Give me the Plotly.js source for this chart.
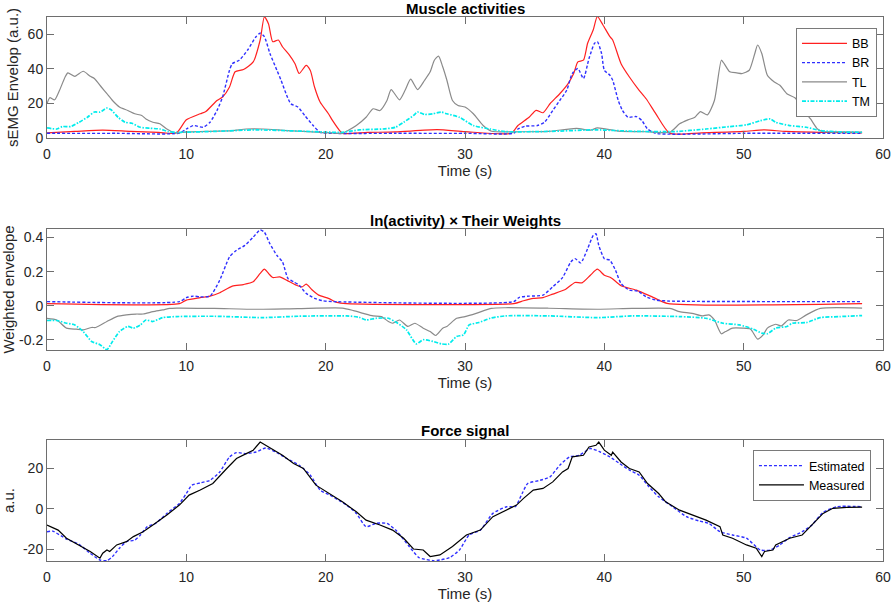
<!DOCTYPE html>
<html>
<head>
<meta charset="utf-8">
<script src="https://cdn.plot.ly/plotly-3.0.1.min.js"></script>
<style>html,body{margin:0;padding:0;background:#fff;}#chart{width:892px;height:605px;}</style>
</head>
<body>
<div id="chart"></div>
<script>
// ---------- Panel titles / labels ----------
const panelTitles = ["Muscle activities", "ln(activity) × Their Weights", "Force signal"];
const xTitle = "Time (s)";
const yTitles = ["sEMG Envelop (a.u.)", "Weighted envelope", "a.u."];
const xTickVals = [0, 10, 20, 30, 40, 50, 60];
const xTickText = ["0", "10", "20", "30", "40", "50", "60"];
const y1TickVals = [0, 20, 40, 60];
const y1TickText = ["0", "20", "40", "60"];
const y2TickVals = [-0.2, 0, 0.2, 0.4];
const y2TickText = ["-0.2", "0", "0.2", "0.4"];
const y3TickVals = [-20, 0, 20];
const y3TickText = ["-20", "0", "20"];
const muscleNames = ["BB", "BR", "TL", "TM"];
const forceNames = ["Estimated", "Measured"];

// ---------- Panel 1: sEMG envelopes ----------
const tBB = [0,2,4,6,8,9.3,10,11,11.4,12.2,12.6,13.1,13.5,14.1,14.8,15.3,15.6,15.9,16.2,16.6,16.9,17.4,17.8,18.1,18.6,18.9,19.2,19.6,20.2,20.5,21,21.2,23,25,28,30,33.3,33.8,34.6,35.1,35.6,36.1,36.8,37.4,37.8,38.1,38.5,38.8,39.2,39.5,39.9,40.4,40.6,41.2,41.8,42.5,43,43.7,44.7,47,50,51.5,53,56,58.5];
const envBB = [3,3.8,4.6,3.8,3.2,3,10.5,14,15.3,21.7,23.7,29.5,38.3,39.6,44,56.7,70,66,55.7,56.7,52.8,48,43,37.3,42,39,29.5,20.8,14,10,4.3,2.7,3.2,3.5,4.8,3.7,2.7,7.2,12,16,14.6,19.8,25.6,31.5,37.3,44,45,54.8,62.5,70.3,65.4,58.6,56.7,43,35.3,27.6,22.7,14,2.7,3,3.8,4.7,3.8,3.2,3];

const tBR = [0,5,9.5,10,10.5,11.2,11.7,12.2,12.6,13.1,13.3,13.8,14.4,15,15.3,15.6,16,16.5,16.8,17.2,17.5,18,18.5,19.1,19.6,20.5,25,30,33.5,33.8,34.3,35.2,35.7,36.3,36.8,37.3,37.7,38.1,38.5,38.9,39.3,39.5,39.8,40,40.4,40.6,41,41.3,41.7,42.3,42.7,43.1,43.7,50,58.5];
const envBR = [2.7,2.7,2.8,5.2,7.2,6.2,9.1,15.9,23.7,39.2,43,45,50.9,58.6,60.6,58.6,48.9,39.2,33.4,24.7,19.8,17.9,13,7.2,3.3,2.7,2.7,2.7,2.8,5.2,6.8,7.2,9.1,15.9,21.7,27.6,37.3,40.2,34.4,46,54.8,55.7,48.9,39.2,36.3,33.4,21.7,15.9,12,12.4,10,5.2,2.7,2.7,2.7];

const tTL = [0,0.2,0.55,0.9,1.3,1.5,2,2.6,3.1,3.4,3.9,4.3,4.7,5.2,5.8,6.3,6.8,7.1,7.6,8.1,8.6,9.2,10,11.5,13.3,14.3,15.5,17.2,19.6,21.2,21.6,22.2,22.9,23.4,23.9,24.4,24.7,25.3,25.7,26.1,26.6,27.1,27.5,27.8,28.1,28.4,28.7,29.1,29.5,30,30.6,31.3,31.9,34,36,38,39,39.5,41,43,44.7,45.4,46,46.5,46.9,47.4,47.9,48.4,48.6,49,49.5,49.9,50.4,50.8,51,51.3,51.7,52.2,52.6,53.1,53.7,54.2,54.8,55.3,55.7,57,58.5];
const envTL = [19.8,23.3,22.1,27.6,35.3,37.7,35.7,38.6,35.7,34.4,29.5,25.6,21.7,17.9,15.9,14,13,11,9.1,8.2,5.2,2.9,3.5,3.8,4.3,5.2,5.2,4.3,3.3,2.7,4.3,7.2,12,16.9,15.9,21.7,28,22.1,27.6,34,28,33.4,38.3,45,47.4,41.2,33.4,21.7,18.8,17.9,14,7.2,3.9,3.6,3.8,5.6,4.5,5.8,4,3.6,3.3,8.2,10.5,12,15.3,13.4,21.7,45,43,38.3,37.7,37.3,39.2,48.9,53.8,48.9,36.3,32.4,30.5,25.6,23.1,16.9,11,5.2,3.7,3.5,3.4];

const tTM = [0,0.7,1.1,1.7,2.3,2.9,3.4,3.8,4.3,4.6,5.1,5.6,6.1,6.7,7.4,8.1,8.7,9.3,12,15,18,21.2,22.4,24.1,25,25.6,26.3,26.6,27.1,27.7,28.3,28.7,29.6,30.6,31.8,32.9,36,39.4,42,45,47.3,49,50.2,51.2,51.9,52.3,53.3,54.5,55.5,57,58.5];
const envTM = [5.8,5.2,6.6,6.6,9.1,12,15,15,17.3,16.3,12,9.1,8.5,6.2,5.6,5.2,3.7,3.3,3.8,4.7,4,3.3,4.7,5.2,6.2,9.1,13,15,13.6,14,15,14,12,7.2,5.2,3.7,3.8,4.7,3.9,3.7,5.2,6.6,7.6,10,11,9.1,7.2,6.2,4.3,3.5,3.3];

// ---------- Panel 2: weighted envelopes ----------
const tWBB = [0,9.5,10,11,11.7,12.4,13.3,14.1,14.8,15.3,15.6,15.9,16.2,16.7,17.2,17.9,18.3,18.6,19,19.5,20.2,20.8,21.5,33.5,34.2,34.9,35.6,36.3,37.2,37.9,38.4,39,39.5,40,40.5,41.2,42.3,43.5,44.5,58.5];
const wBB = [0.012,0.012,0.033,0.047,0.056,0.076,0.115,0.124,0.14,0.189,0.214,0.189,0.165,0.169,0.15,0.12,0.11,0.126,0.095,0.062,0.043,0.019,0.012,0.012,0.029,0.043,0.047,0.068,0.095,0.136,0.134,0.179,0.214,0.179,0.163,0.117,0.091,0.049,0.014,0.012];

const tWBR = [0,9.5,10,10.5,11,11.7,12.4,13.1,13.6,14.2,14.8,15.3,15.6,16,16.5,16.9,17.3,17.7,18.1,18.6,19.2,19.8,20.5,33.5,33.9,34.6,35.6,36.3,37,37.6,37.9,38.3,38.8,39.2,39.4,39.6,40,40.4,40.8,41.2,41.8,42.4,43,43.7,44.7,58.5];
const wBR = [0.024,0.024,0.047,0.056,0.052,0.056,0.15,0.286,0.325,0.354,0.402,0.445,0.431,0.363,0.295,0.257,0.159,0.14,0.12,0.072,0.043,0.029,0.024,0.024,0.049,0.056,0.062,0.111,0.165,0.257,0.276,0.251,0.334,0.412,0.422,0.354,0.276,0.266,0.208,0.13,0.091,0.086,0.052,0.033,0.027,0.024];

const tWTL = [0,0.7,1.4,2.1,2.6,3.2,3.5,4.3,5,5.7,6.4,6.9,7.6,8.3,8.8,9.3,12,15,18,21.2,22,22.7,23.4,24,24.5,24.8,25.3,25.9,26.4,27,27.5,27.9,28.4,28.7,29.4,30,30.8,31.9,32.9,36,39.5,42,44.7,45.4,46.3,47,47.5,47.9,48.4,48.7,49.2,49.9,50.5,51,51.4,51.7,52.3,52.7,53.2,53.8,54.5,55.5,58.5];
const wTL = [-0.074,-0.084,-0.132,-0.138,-0.142,-0.128,-0.128,-0.093,-0.064,-0.054,-0.049,-0.049,-0.035,-0.025,-0.016,-0.014,-0.016,-0.021,-0.017,-0.014,-0.029,-0.045,-0.06,-0.064,-0.093,-0.103,-0.084,-0.122,-0.103,-0.132,-0.152,-0.175,-0.132,-0.122,-0.074,-0.064,-0.045,-0.016,-0.012,-0.015,-0.021,-0.016,-0.016,-0.035,-0.045,-0.06,-0.054,-0.084,-0.165,-0.152,-0.132,-0.132,-0.138,-0.196,-0.171,-0.132,-0.109,-0.119,-0.084,-0.087,-0.054,-0.016,-0.014];

const tWTM = [0,0.7,1.4,2,2.6,3.2,3.8,4.3,4.7,5.2,5.8,6.2,6.7,7.1,7.6,8.3,9.3,12,15.5,18,21.5,22.4,22.9,23.6,24.5,25.1,25.8,26.5,27,27.7,28.3,28.8,29.4,29.9,30.3,31,31.8,32.9,36,39.5,42,45.4,47.3,48.5,49.7,50.7,51.3,51.7,52.3,53.1,53.5,54.5,55.5,56.9,58.5];
const wTM = [-0.087,-0.087,-0.103,-0.113,-0.152,-0.21,-0.229,-0.258,-0.21,-0.152,-0.122,-0.132,-0.113,-0.084,-0.093,-0.07,-0.064,-0.062,-0.07,-0.062,-0.06,-0.068,-0.084,-0.074,-0.074,-0.099,-0.142,-0.224,-0.2,-0.21,-0.224,-0.226,-0.181,-0.171,-0.113,-0.099,-0.074,-0.06,-0.06,-0.07,-0.06,-0.064,-0.074,-0.103,-0.113,-0.138,-0.161,-0.165,-0.132,-0.122,-0.103,-0.099,-0.07,-0.064,-0.058];

// ---------- Panel 3: force ----------
const tMeas = [0,0.8,1.4,2.3,3.1,3.8,4,4.3,4.5,5,5.7,6.2,6.9,7.6,8.6,9.5,10.2,11,11.9,12.9,13.6,14.3,14.8,15.3,15.5,15.7,16.2,16.9,17.7,18.4,19.3,20.3,21.2,22.2,22.9,23.9,24.8,25.6,26.3,27,27.5,28.2,29.1,30.1,31.1,32,33,33.7,34.2,34.9,35.6,36.3,37,37.4,37.7,38.5,38.9,39.4,39.6,40,40.5,40.6,41.2,41.8,42.5,43.1,43.9,44.4,45.4,46.4,47.3,48.3,48.5,49.2,50.2,50.9,51.3,51.5,52.1,52.3,53.3,54.2,54.9,55.7,56.4,57.4,58.5];
const forceMeas = [-8,-10.5,-14.5,-17.8,-21,-24.3,-21.9,-20.3,-21,-17.8,-16.2,-13.7,-11.3,-8,-3.1,1.8,6.7,9.2,12.4,19.8,24.7,27.1,28.8,32.8,32,30.9,28.8,26.3,22.2,19.8,11.6,7.5,3.4,-1.5,-5.6,-8,-10.5,-14.5,-19.8,-20.3,-23.5,-22.7,-18.6,-12.9,-10.5,-3.9,-0.7,1.8,5.1,9.2,10,13.2,18.1,19.8,25.5,26.3,30.4,31.2,32.8,28.8,26.3,27.9,23,19.8,18.1,12.4,7.5,3.4,-0.7,-3.1,-5.6,-8.8,-12.9,-14.5,-17.8,-19.4,-23.5,-21,-20.3,-17.8,-14.5,-12.9,-8,-2.3,0.2,0.7,0.8];

const tEst = [0,0.4,1.4,2.3,3.1,3.8,4.3,4.7,5.2,5.7,6.3,6.7,7.2,7.8,8.6,9.5,10,10.4,11,11.7,12.4,13.1,13.6,14.3,15,15.7,16.5,17.2,18.1,18.9,19.6,20.3,21.5,22.2,22.9,23.6,24.4,25.1,26,26.7,27.7,28.2,28.9,29.6,30.3,31.1,32,33,33.6,34.1,34.5,35.4,36.1,36.8,37.5,38.2,39,39.7,40.4,41.1,41.8,42.5,43.2,43.9,44.9,45.9,46.8,47.5,48.3,49.2,50.2,51.2,51.9,52.6,53.3,54.2,54.9,55.7,56.7,58.5];
const forceEst = [-11.3,-11,-14.9,-17.5,-21.9,-25.2,-25.5,-23.5,-19.4,-16.2,-15.4,-12.9,-8.8,-7.2,-2.3,2.6,7.5,11.6,12.7,14,18.1,25.5,27.6,27.1,27.9,29.9,27.6,24.7,21.4,16.5,9.2,6.7,1.8,-2.3,-8.8,-7.2,-7.2,-11,-18.6,-24,-25.5,-25.2,-24,-20.3,-12.9,-10.5,-2.3,1,1,7.5,12.4,14,15.7,21.4,25.5,26.3,29.6,27.9,25.5,22.2,19,16.5,10.8,5.9,1,-3.9,-6,-7.2,-11.3,-12.9,-14.5,-20.3,-20.3,-17.8,-14.2,-11.3,-8,-1.8,1,1];

// ---------- Styles ----------
const cRed = "#ff2020", cBlue = "#2f2fff", cGray = "#8a8a8a", cCyan = "#00ecec";
const dashBlue = "3px,2px";
const dashCyan = "4px,1.5px,1.5px,1.5px";
const sp = {shape: "spline", smoothing: 0.6};

const traces = [
  {x: tBB, y: envBB, name: muscleNames[0], xaxis: "x", yaxis: "y", legend: "legend", mode: "lines", line: Object.assign({color: cRed, width: 1.2}, sp)},
  {x: tBR, y: envBR, name: muscleNames[1], xaxis: "x", yaxis: "y", legend: "legend", mode: "lines", line: Object.assign({color: cBlue, width: 1.4, dash: dashBlue}, sp)},
  {x: tTL, y: envTL, name: muscleNames[2], xaxis: "x", yaxis: "y", legend: "legend", mode: "lines", line: Object.assign({color: cGray, width: 1.2}, sp)},
  {x: tTM, y: envTM, name: muscleNames[3], xaxis: "x", yaxis: "y", legend: "legend", mode: "lines", line: Object.assign({color: cCyan, width: 1.7, dash: dashCyan}, sp)},

  {x: tWBB, y: wBB, name: muscleNames[0], xaxis: "x2", yaxis: "y2", showlegend: false, mode: "lines", line: Object.assign({color: cRed, width: 1.2}, sp)},
  {x: tWBR, y: wBR, name: muscleNames[1], xaxis: "x2", yaxis: "y2", showlegend: false, mode: "lines", line: Object.assign({color: cBlue, width: 1.4, dash: dashBlue}, sp)},
  {x: tWTL, y: wTL, name: muscleNames[2], xaxis: "x2", yaxis: "y2", showlegend: false, mode: "lines", line: Object.assign({color: cGray, width: 1.2}, sp)},
  {x: tWTM, y: wTM, name: muscleNames[3], xaxis: "x2", yaxis: "y2", showlegend: false, mode: "lines", line: Object.assign({color: cCyan, width: 1.7, dash: dashCyan}, sp)},

  {x: tEst, y: forceEst, name: forceNames[0], xaxis: "x3", yaxis: "y3", legend: "legend2", mode: "lines", line: Object.assign({color: cBlue, width: 1.4, dash: dashBlue}, sp)},
  {x: tMeas, y: forceMeas, name: forceNames[1], xaxis: "x3", yaxis: "y3", legend: "legend2", mode: "lines", line: {color: "#000000", width: 1.2}}
];

const FONT = "Liberation Sans, Arial, Helvetica, sans-serif";
const axisLine = "#6e6e6e";
function xax(anchor) {
  return {
    anchor: anchor, domain: [0, 1], range: [0, 60],
    tickvals: xTickVals, ticktext: xTickText,
    ticks: "inside", ticklen: 7, tickcolor: axisLine, tickwidth: 1,
    showline: true, linecolor: axisLine, linewidth: 1, mirror: "ticks",
    showgrid: false, zeroline: false,
    tickfont: {family: FONT, size: 14, color: "#262626"},
    title: {text: xTitle, font: {family: FONT, size: 15, color: "#262626"}, standoff: 2},
    ticklabelstandoff: 3
  };
}
function yax(anchor, dom, rng, tv, tt, ttl) {
  return {
    anchor: anchor, domain: dom, range: rng,
    tickvals: tv, ticktext: tt,
    ticks: "inside", ticklen: 7, tickcolor: axisLine, tickwidth: 1,
    showline: true, linecolor: axisLine, linewidth: 1, mirror: "ticks",
    showgrid: false, zeroline: false,
    tickfont: {family: FONT, size: 14, color: "#262626"},
    title: {text: ttl, font: {family: FONT, size: 15, color: "#262626"}, standoff: 5}
  };
}

const legendBase = {
  xanchor: "right", yanchor: "top",
  bgcolor: "#ffffff", bordercolor: "#7a7a7a", borderwidth: 1,
  font: {family: FONT, size: 12.5, color: "#000"}, tracegroupgap: 0, itemwidth: 45
};

const layout = {
  width: 892, height: 605,
  margin: {l: 47, r: 9, t: 17, b: 44},
  paper_bgcolor: "#ffffff", plot_bgcolor: "#ffffff",
  font: {family: FONT, color: "#262626"},
  xaxis: xax("y"),
  yaxis: yax("x", [0.7776, 1], [0, 70], y1TickVals, y1TickText, yTitles[0]),
  xaxis2: xax("y2"),
  yaxis2: yax("x2", [0.3879, 0.6103], [-0.26, 0.45], y2TickVals, y2TickText, yTitles[1]),
  xaxis3: xax("y3"),
  yaxis3: yax("x3", [0, 0.2224], [-25.7, 33.8], y3TickVals, y3TickText, yTitles[2]),
  legend: Object.assign({x: 0.9928, y: 0.9803}, legendBase),
  legend2: Object.assign({x: 0.9856, y: 0.204}, legendBase),
  annotations: [
    {text: "<b>" + panelTitles[0] + "</b>", xref: "paper", yref: "paper", x: 0.5, y: 1.0165, xanchor: "center", yanchor: "middle", showarrow: false, font: {family: FONT, size: 15, color: "#000"}},
    {text: "<b>" + panelTitles[1] + "</b>", xref: "paper", yref: "paper", x: 0.5, y: 0.6268, xanchor: "center", yanchor: "middle", showarrow: false, font: {family: FONT, size: 15, color: "#000"}},
    {text: "<b>" + panelTitles[2] + "</b>", xref: "paper", yref: "paper", x: 0.5, y: 0.2395, xanchor: "center", yanchor: "middle", showarrow: false, font: {family: FONT, size: 15, color: "#000"}}
  ],
  showlegend: true
};

Plotly.newPlot("chart", traces, layout, {displayModeBar: false, staticPlot: true});
</script>
</body>
</html>
